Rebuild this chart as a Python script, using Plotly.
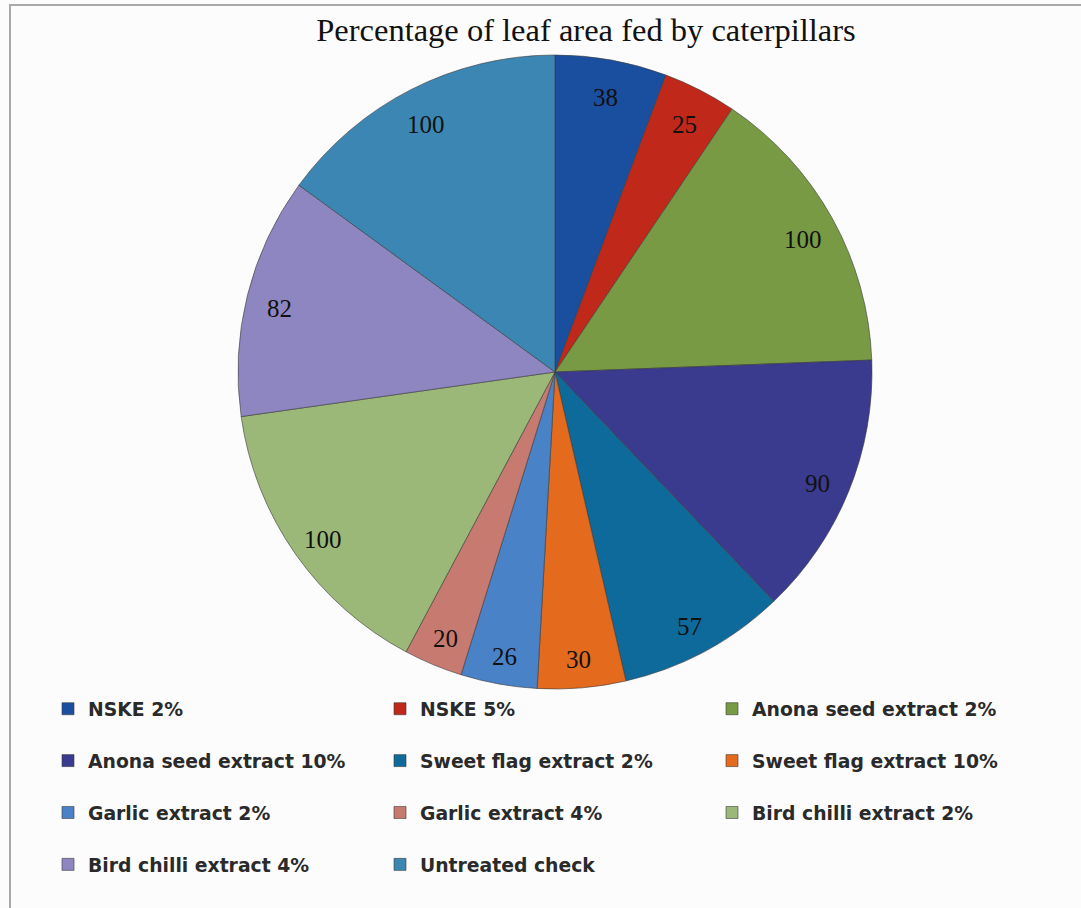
import math
import plotly.graph_objects as go

# Treatments and percentage of leaf area fed
treatments = [
    "NSKE 2%", "NSKE 5%", "Anona seed extract 2%", "Anona seed extract 10%",
    "Sweet flag extract 2%", "Sweet flag extract 10%", "Garlic extract 2%",
    "Garlic extract 4%", "Bird chilli extract 2%", "Bird chilli extract 4%",
    "Untreated check",
]
leaf_area_fed = [38, 25, 100, 90, 57, 30, 26, 20, 100, 82, 100]
slice_colors = [
    "#1A4FA0", "#C0281A", "#789A45", "#3A3A8E", "#0E6A9A", "#E46A1E",
    "#4A82C8", "#C77A70", "#9CB878", "#8E86C0", "#3C86B4",
]

W, H = 1081, 908
CX, CY, R = 555, 372, 317  # pie centre and radius in pixels

fig = go.Figure()
fig.add_trace(go.Pie(
    labels=[t + "<br> " for t in treatments],
    values=leaf_area_fed,
    sort=False,
    direction="clockwise",
    rotation=0,
    marker=dict(colors=slice_colors, line=dict(color="#3a3a3a", width=0.6)),
    textinfo="none",
    hoverinfo="label+value",
    domain=dict(x=[(CX - R) / W, (CX + R) / W], y=[(H - CY - R) / H, (H - CY + R) / H]),
))

# value labels near the outer edge of each slice
total = sum(leaf_area_fed)
cum = 0
annotations = []
for v in leaf_area_fed:
    mid = (cum + v / 2) / total * 2 * math.pi
    cum += v
    px = CX + 0.895 * R * math.sin(mid)
    py = CY - 0.895 * R * math.cos(mid)
    annotations.append(dict(
        x=px / W, y=1 - py / H, xref="paper", yref="paper",
        xanchor="center", yanchor="middle", yshift=-5,
        text=str(v), showarrow=False,
        font=dict(family="Liberation Serif", size=25, color="#111111"),
    ))

fig.update_layout(
    width=W, height=H,
    margin=dict(l=0, r=0, t=0, b=0),
    paper_bgcolor="#FCFCFD",
    title=dict(
        text="Percentage of leaf area fed by caterpillars",
        x=586 / W, xanchor="center", y=1 - 30 / H, yanchor="middle",
        font=dict(family="Liberation Serif", size=32.5, color="#111111"),
    ),
    annotations=annotations,
    showlegend=True,
    legend=dict(
        orientation="h",
        x=48 / W, xanchor="left",
        y=1 - 690 / H, yanchor="top",
        entrywidth=287, entrywidthmode="pixels",
        valign="top",
        font=dict(family="DejaVu Sans", size=18.8, color="#2a2a2a", weight="bold"),
        bgcolor="rgba(0,0,0,0)",
        traceorder="normal",
    ),
    shapes=[dict(
        type="rect", xref="paper", yref="paper",
        x0=10 / W, x1=1.02, y0=-0.02, y1=1 - 5 / H,
        line=dict(color="#A9A9A9", width=2),
    )],
)

fig.write_html("out.html")
